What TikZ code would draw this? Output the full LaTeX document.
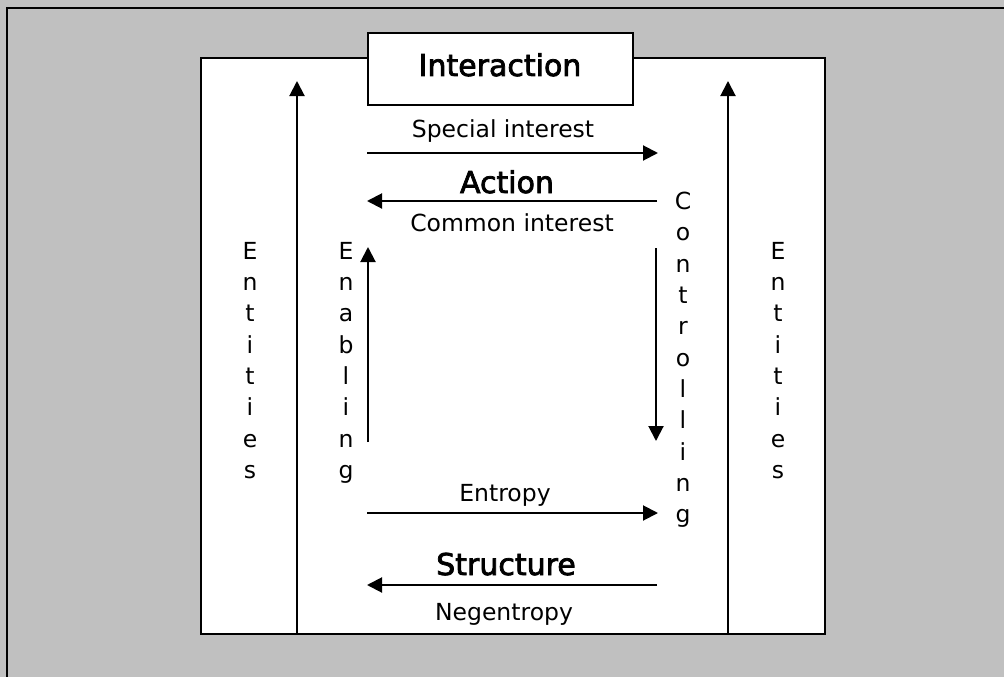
\documentclass[tikz,border=0pt]{standalone}
\usepackage{fontspec}
\setmainfont{DejaVu Sans}
\newfontfamily\titlefont{DejaVu Sans}[FakeBold=2.5]
\usetikzlibrary{arrows.meta}
\definecolor{bggray}{RGB}{192,192,192}
\tikzset{
  flow/.style={line width=2pt, -{Triangle[length=15pt,width=15pt]}},
  frame/.style={draw, line width=2.4pt},
  small/.style={font=\fontsize{23.5}{28}\selectfont, inner sep=0pt},
  title/.style={font=\titlefont\fontsize{30}{36}\selectfont, inner sep=0pt},
  vert/.style={font=\fontsize{23.5}{31.3}\selectfont, align=center, inner sep=0pt, anchor=north},
}
\begin{document}
\begin{tikzpicture}[x=1pt,y=-1pt]
\useasboundingbox (0,0) rectangle (1004,677);
\fill[bggray] (0,0) rectangle (1004,677);
\draw[line width=2.8pt] (1004,8) -- (7,8) -- (7,677);
% inner panel
\node[frame, fill=white, minimum width=624pt, minimum height=576pt, anchor=north west, inner sep=0pt] (panel) at (200,57) {};
% Interaction box
\node[frame, fill=white, minimum width=265pt, minimum height=72pt, anchor=north west, inner sep=0pt] (ibox) at (367,32) {};
\node[title, anchor=base] (inter) at (500,76) {Interaction};
% coordinates
\coordinate (lb) at (297,633); \coordinate (lt) at (297,81);
\coordinate (rb) at (728,633); \coordinate (rt) at (728,81);
\coordinate (s1) at (367,153); \coordinate (s2) at (658,153);
\coordinate (a1) at (657,201); \coordinate (a2) at (367,201);
\coordinate (e1) at (368,442); \coordinate (e2) at (368,247);
\coordinate (c1) at (656,248); \coordinate (c2) at (656,441);
\coordinate (n1) at (367,513); \coordinate (n2) at (658,513);
\coordinate (t1) at (657,585); \coordinate (t2) at (367,585);
% arrows
\draw[flow] (lb) -- (lt);
\draw[flow] (rb) -- (rt);
\draw[flow] (s1) -- (s2);
\draw[flow] (a1) -- (a2);
\draw[flow] (e1) -- (e2);
\draw[flow] (c1) -- (c2);
\draw[flow] (n1) -- (n2);
\draw[flow] (t1) -- (t2);
% labels
\node[small, anchor=base] (spec) at (503,137) {Special interest};
\node[title, anchor=base] (act) at (507,193) {Action};
\node[small, anchor=base] (comm) at (512,231) {Common interest};
\node[small, anchor=base] (ent) at (505,501) {Entropy};
\node[title, anchor=base] (str) at (506,575) {Structure};
\node[small, anchor=base] (neg) at (504,620) {Negentropy};
% vertical words
\node[vert] (entL) at (250,242) {E\\n\\t\\i\\t\\i\\e\\s};
\node[vert] (entR) at (778,242) {E\\n\\t\\i\\t\\i\\e\\s};
\node[vert] (enab) at (346,242) {E\\n\\a\\b\\l\\i\\n\\g};
\node[vert] (ctrl) at (683,192) {C\\o\\n\\t\\r\\o\\l\\l\\i\\n\\g};
\end{tikzpicture}
\end{document}
